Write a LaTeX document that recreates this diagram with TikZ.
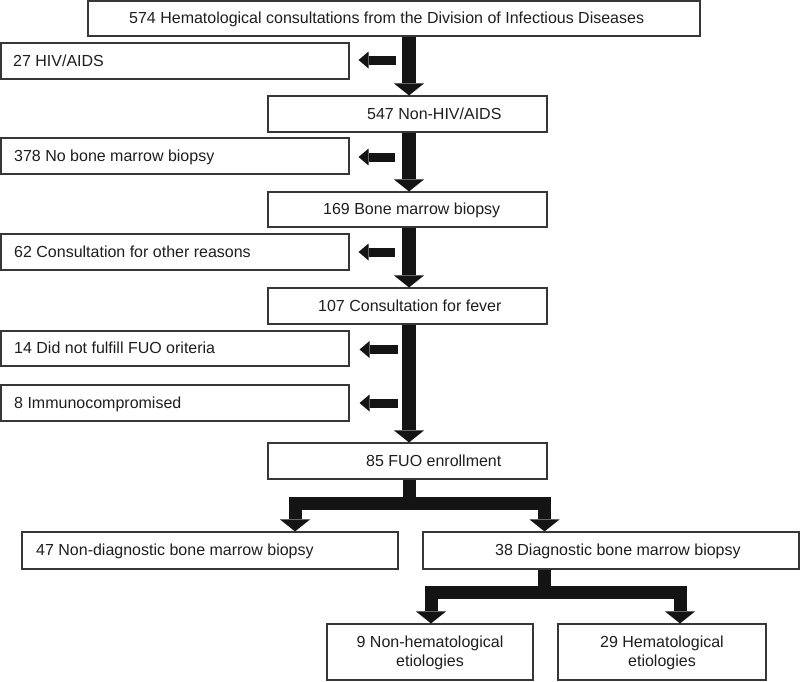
\documentclass[tikz,border=0pt]{standalone}
\usepackage{fontspec}
\setmainfont{Liberation Sans}
\usetikzlibrary{arrows.meta,calc}
\definecolor{boxline}{RGB}{55,55,55}
\definecolor{arrowfill}{RGB}{20,20,20}
\definecolor{txtcol}{RGB}{30,30,30}
\begin{document}
\begin{tikzpicture}[x=1pt,y=-1pt,
  box/.style={draw=boxline,line width=1.1pt,inner sep=0pt,minimum width=#1},
  txt/.style={text=txtcol,font=\fontsize{16}{19}\selectfont,inner sep=0pt,anchor=west,text height=11.5pt,text depth=0pt},
  ctxt/.style={text=txtcol,font=\fontsize{16}{19}\selectfont,inner sep=0pt,align=center},
  spinearrow/.style={draw=arrowfill,line width=14pt,-{Triangle[width=30pt,length=12pt,line width=0pt]}},
  brancharrow/.style={draw=arrowfill,line width=13pt,line join=miter,-{Triangle[width=30pt,length=12pt,line width=0pt]}},
  sidearrow/.style={draw=arrowfill,line width=9pt,-{Triangle[width=17pt,length=10pt,line width=0pt]}}]
\useasboundingbox (0,0) rectangle (800,681);
% boxes: (left,top) rectangle (right,bottom)
\node[box=612pt,minimum height=35pt] (top) at (394,18.5) {};
\node[box=348pt,minimum height=36pt] (hiv) at (175,61) {};
\node[box=279pt,minimum height=36pt] (nonhiv) at (407.5,114) {};
\node[box=348pt,minimum height=36pt] (nobmb) at (175,156) {};
\node[box=279pt,minimum height=35pt] (bmb) at (407.5,209.5) {};
\node[box=348pt,minimum height=36pt] (other) at (175,252) {};
\node[box=279pt,minimum height=36pt] (fever) at (407.5,306) {};
\node[box=348pt,minimum height=35pt] (nofuo) at (175,348.5) {};
\node[box=348pt,minimum height=36pt] (immuno) at (175,403) {};
\node[box=279pt,minimum height=36pt] (fuo) at (407.5,461) {};
\node[box=376pt,minimum height=37pt] (nondiag) at (210,550.5) {};
\node[box=376pt,minimum height=37pt] (diag) at (611,550.5) {};
\node[box=206pt,minimum height=56pt] (nonhem) at (430,652) {};
\node[box=208pt,minimum height=56pt] (hem) at (662,652) {};
% texts
\node[txt] (ttop) at (129,18) {574 Hematological consultations from the Division of Infectious Diseases};
\node[txt] (thiv) at (13,60.5) {27 HIV/AIDS};
\node[txt] (tnonhiv) at (367,113.5) {547 Non-HIV/AIDS};
\node[txt] (tnobmb) at (14,155.5) {378 No bone marrow biopsy};
\node[txt] (tbmb) at (323,209) {169 Bone marrow biopsy};
\node[txt] (tother) at (14,251.5) {62 Consultation for other reasons};
\node[txt] (tfever) at (318,305.5) {107 Consultation for fever};
\node[txt] (tnofuo) at (14,348) {14 Did not fulfill FUO oriteria};
\node[txt] (timmuno) at (14,402.5) {8 Immunocompromised};
\node[txt] (tfuo) at (366,460.5) {85 FUO enrollment};
\node[txt] (tnondiag) at (36,550) {47 Non-diagnostic bone marrow biopsy};
\node[txt] (tdiag) at (495,550) {38 Diagnostic bone marrow biopsy};
\node[ctxt] (tnonhem) at (430,653) {9 Non-hematological\\etiologies};
\node[ctxt] (them) at (662,653) {29 Hematological\\etiologies};
% helper coordinates
\coordinate (spine) at (409,0);
\coordinate (bar1) at (0,503.5);
\coordinate (b1l) at (295,0);
\coordinate (b1r) at (544.5,0);
\coordinate (bar2) at (0,592);
\coordinate (b2l) at (431,0);
\coordinate (b2r) at (680,0);
% spine arrows
\draw[spinearrow] (top.south -| spine) -- (nonhiv.north -| spine);
\draw[spinearrow] (nonhiv.south -| spine) -- (bmb.north -| spine);
\draw[spinearrow] (bmb.south -| spine) -- (fever.north -| spine);
\draw[spinearrow] (fever.south -| spine) -- (fuo.north -| spine);
% side arrows
\draw[sidearrow] ([xshift=46pt,yshift=1pt]hiv.east) -- ([xshift=9pt,yshift=1pt]hiv.east);
\draw[sidearrow] ([xshift=45pt,yshift=-1pt]nobmb.east) -- ([xshift=9pt,yshift=-1pt]nobmb.east);
\draw[sidearrow] ([xshift=45pt]other.east) -- ([xshift=9pt]other.east);
\draw[sidearrow] ([xshift=48pt,yshift=-1pt]nofuo.east) -- ([xshift=10pt,yshift=-1pt]nofuo.east);
\draw[sidearrow] ([xshift=48pt]immuno.east) -- ([xshift=10pt]immuno.east);
% branches
\draw[brancharrow] (fuo.south -| spine) -- (spine |- bar1) -| (b1l |- nondiag.north);
\draw[brancharrow] (fuo.south -| spine) -- (spine |- bar1) -| (b1r |- diag.north);
\draw[brancharrow] (diag.south -| b1r) -- (b1r |- bar2) -| (b2l |- nonhem.north);
\draw[brancharrow] (diag.south -| b1r) -- (b1r |- bar2) -| (b2r |- hem.north);
\end{tikzpicture}
\end{document}
